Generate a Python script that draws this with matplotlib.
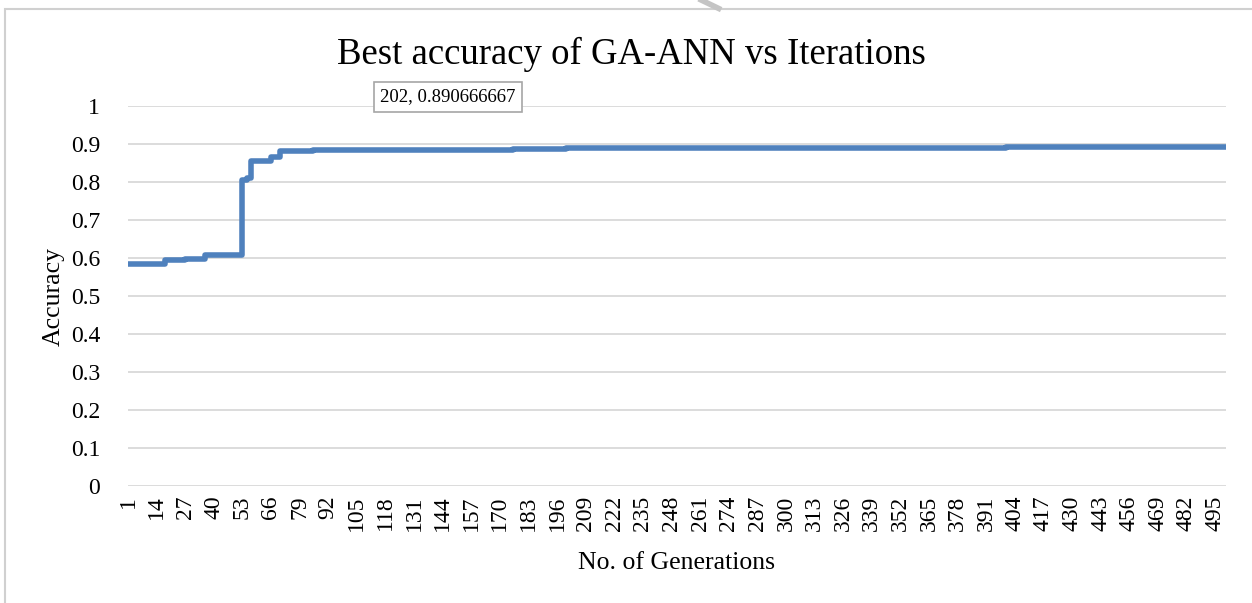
import matplotlib.pyplot as plt
from matplotlib.patches import Rectangle
from matplotlib.lines import Line2D

# generation where a new best accuracy starts, and that accuracy
step_gen = [1, 18, 27, 36, 53, 55, 57, 66, 70, 85, 176, 200, 400, 500]
step_acc = [0.584, 0.595, 0.598, 0.607, 0.805, 0.812, 0.855, 0.866, 0.882,
            0.885, 0.888, 0.890666667, 0.8913, 0.8913]

label_gen = 202
label_acc = 0.890666667

xticks = list(range(1, 501, 13))
yticks = [0, 0.1, 0.2, 0.3, 0.4, 0.5, 0.6, 0.7, 0.8, 0.9, 1]
ytick_labels = ["0", "0.1", "0.2", "0.3", "0.4", "0.5", "0.6", "0.7", "0.8", "0.9", "1"]

plt.rcParams["font.family"] = ["Liberation Serif", "DejaVu Serif"]

fig = plt.figure(figsize=(12.52, 6.03), dpi=100)
ax = fig.add_axes([0.1022, 0.194, 0.877, 0.630])

# light frame round the chart area (as in the document), plus the stray mark above it
fig.patches.append(Rectangle((0.004, -0.1), 1.2, 1.085, transform=fig.transFigure,
                             fill=False, edgecolor="#d0d0d0", linewidth=1.5))
fig.lines.append(Line2D([0.560, 0.574], [1.0, 0.986], transform=fig.transFigure,
                        color="#c4c4c4", linewidth=4))

ax.plot(step_gen, step_acc, drawstyle="steps-post", color="#4f81bd",
        linewidth=4.0, solid_capstyle="round", solid_joinstyle="round", zorder=3)

ax.set_xlim(1, 500)
ax.set_ylim(0, 1)
ax.set_yticks(yticks)
ax.set_yticklabels(ytick_labels)
ax.set_xticks(xticks)
ax.set_xticklabels([str(t) for t in xticks], rotation=90)
ax.tick_params(axis="both", length=0, labelsize=17)
ax.tick_params(axis="y", pad=20)
ax.tick_params(axis="x", pad=7)
ax.grid(axis="y", color="#d9d9d9", linewidth=1.3)
ax.set_axisbelow(True)
for s in ax.spines.values():
    s.set_visible(False)

fig.text(0.504, 0.910, "Best accuracy of GA-ANN vs Iterations", fontsize=26.5,
         ha="center", va="center")
ax.set_xlabel("No. of Generations", fontsize=18.5, labelpad=15)
ax.set_ylabel("Accuracy", fontsize=18.5, labelpad=4)

ax.annotate(f"{label_gen}, {label_acc}", xy=(label_gen, label_acc),
            xytext=(146.5, 1.025), textcoords="data", ha="center", va="center",
            fontsize=13.5, annotation_clip=False,
            bbox=dict(boxstyle="square,pad=0.35", fc="white", ec="#a6a6a6", lw=1.2))

fig.savefig("out.png", dpi=100)
